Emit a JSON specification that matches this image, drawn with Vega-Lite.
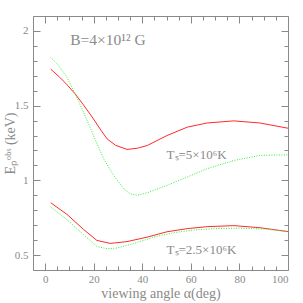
{
  "$schema": "https://vega.github.io/schema/vega-lite/v6.json",
  "width": 255,
  "height": 254,
  "autosize": {"type": "none"},
  "padding": {"left": 33, "top": 16, "right": 15, "bottom": 33},
  "background": "white",
  "config": {
    "view": {"stroke": "#8a8a8a", "strokeWidth": 1},
    "font": "Liberation Serif",
    "axis": {"domain": false, "grid": false, "tickColor": "#8a8a8a", "labelColor": "#8a8a8a", "titleColor": "#8a8a8a", "labelFont": "Liberation Serif", "titleFont": "Liberation Serif", "labelFontSize": 11, "titleFontSize": 14, "titleFontWeight": "normal"}
  },
  "datasets": {
    "curves": [
      {"s": "rh", "a": 2.3, "E": 1.744},
      {"s": "rh", "a": 6, "E": 1.69},
      {"s": "rh", "a": 9, "E": 1.64},
      {"s": "rh", "a": 12.4, "E": 1.578},
      {"s": "rh", "a": 16, "E": 1.5},
      {"s": "rh", "a": 19.9, "E": 1.411},
      {"s": "rh", "a": 23, "E": 1.335},
      {"s": "rh", "a": 25.5, "E": 1.278},
      {"s": "rh", "a": 29, "E": 1.235},
      {"s": "rh", "a": 33.7, "E": 1.207},
      {"s": "rh", "a": 38, "E": 1.215},
      {"s": "rh", "a": 42, "E": 1.233},
      {"s": "rh", "a": 50.2, "E": 1.3},
      {"s": "rh", "a": 58.5, "E": 1.356},
      {"s": "rh", "a": 66.7, "E": 1.384},
      {"s": "rh", "a": 77.7, "E": 1.398},
      {"s": "rh", "a": 88.4, "E": 1.384},
      {"s": "rh", "a": 100, "E": 1.349},
      {"s": "gh", "a": 2.3, "E": 1.822},
      {"s": "gh", "a": 5.5, "E": 1.77},
      {"s": "gh", "a": 9, "E": 1.689},
      {"s": "gh", "a": 12.4, "E": 1.578},
      {"s": "gh", "a": 15.8, "E": 1.456},
      {"s": "gh", "a": 19.9, "E": 1.3},
      {"s": "gh", "a": 24.1, "E": 1.144},
      {"s": "gh", "a": 28.2, "E": 1.033},
      {"s": "gh", "a": 32.3, "E": 0.944},
      {"s": "gh", "a": 35, "E": 0.91},
      {"s": "gh", "a": 37.8, "E": 0.9},
      {"s": "gh", "a": 42, "E": 0.916},
      {"s": "gh", "a": 50.2, "E": 0.967},
      {"s": "gh", "a": 58.5, "E": 1.022},
      {"s": "gh", "a": 66.7, "E": 1.078},
      {"s": "gh", "a": 77.7, "E": 1.133},
      {"s": "gh", "a": 88.4, "E": 1.167},
      {"s": "gh", "a": 100, "E": 1.171},
      {"s": "rl", "a": 2.3, "E": 0.85},
      {"s": "rl", "a": 9, "E": 0.772},
      {"s": "rl", "a": 15.8, "E": 0.672},
      {"s": "rl", "a": 21.3, "E": 0.598},
      {"s": "rl", "a": 26.8, "E": 0.578},
      {"s": "rl", "a": 33.7, "E": 0.59},
      {"s": "rl", "a": 42, "E": 0.62},
      {"s": "rl", "a": 50.2, "E": 0.656},
      {"s": "rl", "a": 58.5, "E": 0.677},
      {"s": "rl", "a": 66.7, "E": 0.69},
      {"s": "rl", "a": 77.7, "E": 0.697},
      {"s": "rl", "a": 88.4, "E": 0.683},
      {"s": "rl", "a": 100, "E": 0.657},
      {"s": "gl", "a": 2.3, "E": 0.822},
      {"s": "gl", "a": 9, "E": 0.737},
      {"s": "gl", "a": 15.8, "E": 0.637},
      {"s": "gl", "a": 21.3, "E": 0.558},
      {"s": "gl", "a": 25.5, "E": 0.542},
      {"s": "gl", "a": 29.6, "E": 0.547},
      {"s": "gl", "a": 36.4, "E": 0.577},
      {"s": "gl", "a": 44.7, "E": 0.62},
      {"s": "gl", "a": 53, "E": 0.65},
      {"s": "gl", "a": 61.2, "E": 0.668},
      {"s": "gl", "a": 69.5, "E": 0.677},
      {"s": "gl", "a": 80.5, "E": 0.68},
      {"s": "gl", "a": 91.5, "E": 0.673},
      {"s": "gl", "a": 100, "E": 0.657}
    ],
    "labels": [
      {"t": "B=4×10¹² G", "a": 10.3, "E": 1.94, "fs": 15.5},
      {"t": "Tₛ=5×10⁶K", "a": 50, "E": 1.171, "fs": 13},
      {"t": "Tₛ=2.5×10⁶K", "a": 50, "E": 0.533, "fs": 13}
    ]
  },
  "resolve": {"axis": {"x": "independent", "y": "independent"}},
  "layer": [
    {
      "data": {"name": "curves"},
      "transform": [{"filter": "datum.s == 'rh'"}],
      "mark": {"type": "line", "color": "#ff2a2a", "strokeWidth": 1},
      "encoding": {
        "x": {"field": "a", "type": "quantitative", "scale": {"domain": [-5, 100], "nice": false, "zero": false},
              "axis": {"orient": "bottom", "values": [0, 20, 40, 60, 80, 100], "tickSize": -7, "labelPadding": 10, "title": "viewing angle α(deg)", "titleX": 127.5, "titleY": 23, "titleBaseline": "middle", "titleAlign": "center", "titleFontSize": 14}},
        "y": {"field": "E", "type": "quantitative", "scale": {"domain": [0.4, 2.1], "nice": false, "zero": false},
              "axis": {"orient": "left", "values": [0.5, 1, 1.5, 2], "format": "~g", "tickSize": -7, "labelPadding": 12, "title": "Eₚᵒᵇˢ (keV)", "titleX": -23, "titleY": 127, "titleAngle": -90, "titleBaseline": "middle", "titleAlign": "center", "titleFontSize": 14}}
      }
    },
    {
      "data": {"name": "curves"},
      "transform": [{"filter": "datum.s == 'gh'"}],
      "mark": {"type": "line", "color": "#33ee33", "strokeWidth": 1, "strokeDash": [1, 1.5]},
      "encoding": {
        "x": {"field": "a", "type": "quantitative",
              "axis": {"orient": "bottom", "values": [-5, 5, 10, 15, 25, 30, 35, 45, 50, 55, 65, 70, 75, 85, 90, 95], "tickSize": -4, "labels": false, "title": null}},
        "y": {"field": "E", "type": "quantitative",
              "axis": {"orient": "left", "values": [0.6, 0.7, 0.8, 0.9, 1.1, 1.2, 1.3, 1.4, 1.6, 1.7, 1.8, 1.9], "tickSize": -4, "labels": false, "title": null}}
      }
    },
    {
      "data": {"name": "curves"},
      "transform": [{"filter": "datum.s == 'rl'"}],
      "mark": {"type": "line", "color": "#ff2a2a", "strokeWidth": 1},
      "encoding": {
        "x": {"field": "a", "type": "quantitative",
              "axis": {"orient": "top", "values": [0, 20, 40, 60, 80, 100], "tickSize": -7, "labels": false, "title": null}},
        "y": {"field": "E", "type": "quantitative",
              "axis": {"orient": "right", "values": [0.5, 1, 1.5, 2], "tickSize": -7, "labels": false, "title": null}}
      }
    },
    {
      "data": {"name": "curves"},
      "transform": [{"filter": "datum.s == 'gl'"}],
      "mark": {"type": "line", "color": "#33ee33", "strokeWidth": 1, "strokeDash": [1, 1.5]},
      "encoding": {
        "x": {"field": "a", "type": "quantitative",
              "axis": {"orient": "top", "values": [-5, 5, 10, 15, 25, 30, 35, 45, 50, 55, 65, 70, 75, 85, 90, 95], "tickSize": -4, "labels": false, "title": null}},
        "y": {"field": "E", "type": "quantitative",
              "axis": {"orient": "right", "values": [0.6, 0.7, 0.8, 0.9, 1.1, 1.2, 1.3, 1.4, 1.6, 1.7, 1.8, 1.9], "tickSize": -4, "labels": false, "title": null}}
      }
    },
    {
      "data": {"name": "labels"},
      "mark": {"type": "text", "align": "left", "baseline": "middle", "font": "Liberation Serif", "color": "#8a8a8a"},
      "encoding": {
        "x": {"field": "a", "type": "quantitative", "axis": null},
        "y": {"field": "E", "type": "quantitative", "axis": null},
        "text": {"field": "t"},
        "size": {"field": "fs", "type": "quantitative", "scale": null}
      }
    }
  ]
}
